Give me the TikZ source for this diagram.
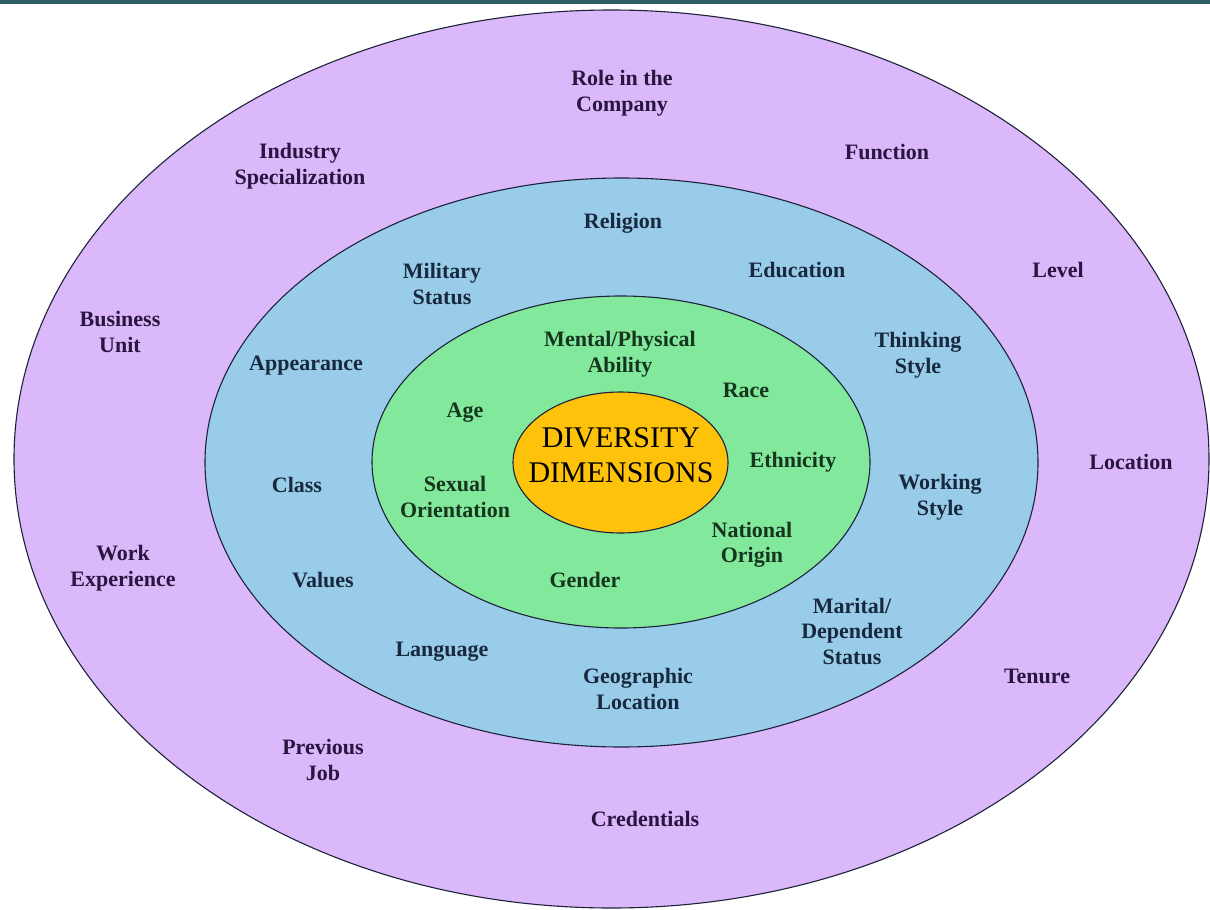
\documentclass[tikz,border=0pt]{standalone}
\usepackage{fontspec}
\setmainfont{Liberation Serif}
\definecolor{bar}{HTML}{2F5E66}
\definecolor{outerc}{HTML}{DAB8FA}
\definecolor{midc}{HTML}{99CCE9}
\definecolor{innc}{HTML}{82E89C}
\definecolor{corec}{HTML}{FFC20A}
\definecolor{edgec}{HTML}{1E2238}
\definecolor{tpurple}{HTML}{2A1440}
\definecolor{tblue}{HTML}{18283E}
\definecolor{tgreen}{HTML}{16351E}
\begin{document}
\begin{tikzpicture}[x=1pt,y=-1pt,
  ring/.style={draw=edgec,line width=1.1pt},
  lbl/.style={align=center,inner sep=0pt,font=\fontsize{22}{25.5}\selectfont\bfseries},
  lo/.style={lbl,text=tpurple},
  lm/.style={lbl,text=tblue},
  li/.style={lbl,text=tgreen}]
\useasboundingbox (0,0) rectangle (1210,910);
\fill[white] (0,0) rectangle (1210,910);
\begin{scope}
\clip (0,0) rectangle (1210,910);
\filldraw[ring,fill=outerc] (611.5,459) ellipse [x radius=597.5, y radius=449];
\end{scope}
\fill[bar] (0,0) rectangle (1210,3.5);
\filldraw[ring,fill=midc] (621.5,462.5) ellipse [x radius=416.5, y radius=284.5];
\filldraw[ring,fill=innc] (621,462) ellipse [x radius=249, y radius=166];
\filldraw[ring,fill=corec] (620.5,462.5) ellipse [x radius=107.5, y radius=70.5];
\node[inner sep=0pt,align=center,text=black,font=\fontsize{30}{34.5}\selectfont] (core) at (621,455) {DIVERSITY\\DIMENSIONS};
% outer ring
\node[lo] (role) at (622,93) {Role in the\\Company};
\node[lo] (ind) at (300,166) {Industry\\Specialization};
\node[lo] (func) at (887,152) {Function};
\node[lo] (lev) at (1058,270) {Level};
\node[lo] (bu) at (120,332) {Business\\Unit};
\node[lo] (loc) at (1131,462) {Location};
\node[lo] (we) at (123,568) {Work\\Experience};
\node[lo] (ten) at (1037,676) {Tenure};
\node[lo] (pj) at (323,760) {Previous\\Job};
\node[lo] (cred) at (645,819) {Credentials};
% middle ring
\node[lm] (rel) at (623,223) {Religion};
\node[lm] (mil) at (442,284) {Military\\Status};
\node[lm] (edu) at (797,270) {Education};
\node[lm] (ts) at (918,355) {Thinking\\Style};
\node[lm] (app) at (306,366) {Appearance};
\node[lm] (cls) at (297,485) {Class};
\node[lm] (ws) at (940,497) {Working\\Style};
\node[lm] (val) at (323,580) {Values};
\node[lm] (mar) at (852,631) {Marital/\\Dependent\\Status};
\node[lm] (lang) at (442,652) {Language};
\node[lm] (geo) at (638,689) {Geographic\\Location};
% inner ring
\node[li] (mpa) at (620,354) {Mental/Physical\\Ability};
\node[li] (race) at (746,390) {Race};
\node[li] (age) at (465,413) {Age};
\node[li] (eth) at (793,462) {Ethnicity};
\node[li] (sex) at (455,497) {Sexual\\Orientation};
\node[li] (nat) at (752,545) {National\\Origin};
\node[li] (gen) at (585,580) {Gender};
\end{tikzpicture}
\end{document}
